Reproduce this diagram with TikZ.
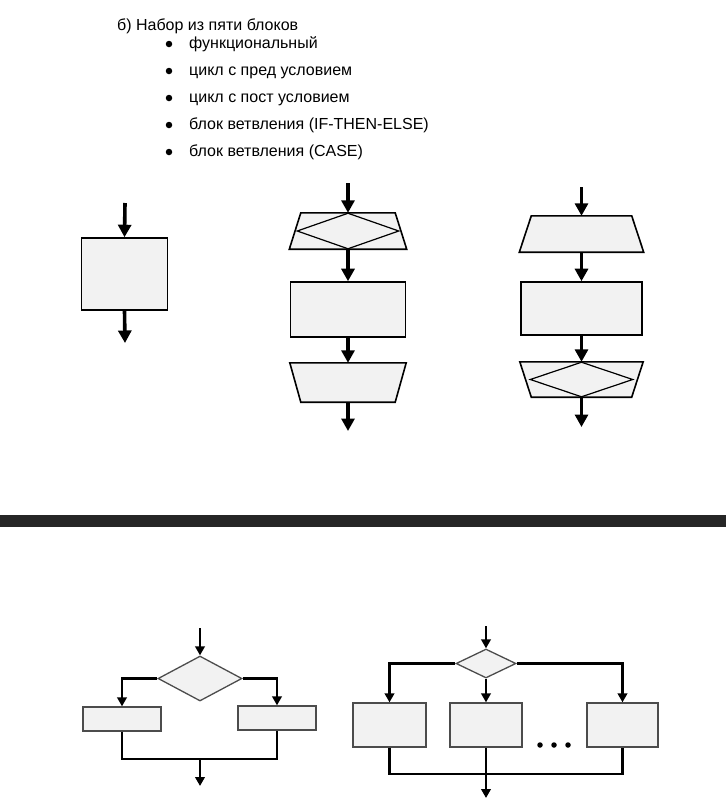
\documentclass[tikz,border=0pt]{standalone}
\usepackage{fontspec}
\setmainfont{Liberation Sans}
\usetikzlibrary{arrows.meta, shapes.geometric, positioning}
\definecolor{blkfill}{HTML}{F2F2F2}
\definecolor{bandgray}{HTML}{262626}
\tikzset{>={Triangle[length=12.5pt,width=13pt]}}
\tikzset{
  blk/.style={draw, line width=1.6pt, fill=blkfill, minimum width=#1, inner sep=0pt},
  frame/.style={rectangle, inner sep=0pt},
  trapline/.style={draw, line width=1.6pt, fill=blkfill, line join=miter},
  rhomb/.style={diamond, draw, line width=1.2pt, inner sep=0pt},
  flow/.style={line width=3.6pt, ->},
  sblk/.style={draw=black!70, line width=1.3pt, fill=blkfill, inner sep=0pt},
  srhomb/.style={diamond, draw=black!70, line width=1.3pt, fill=blkfill, inner sep=0pt},
  sflow/.style={line width=2.4pt, -{Triangle[length=9pt,width=9.5pt]}},
  sline/.style={line width=2.4pt},
  dot/.style={circle, fill=black, inner sep=0pt, minimum size=#1}
}
% trapezoid over a frame node: narrow top / narrow bottom
\newcommand{\trapnarrowtop}[2]{\path[trapline] ([xshift=#2]#1.north west)--([xshift=-#2]#1.north east)--(#1.south east)--(#1.south west)--cycle;}
\newcommand{\trapnarrowbot}[2]{\path[trapline] (#1.north west)--(#1.north east)--([xshift=-#2]#1.south east)--([xshift=#2]#1.south west)--cycle;}

\begin{document}
\begin{tikzpicture}[x=1pt, y=-1pt, font=\fontsize{16}{18}\selectfont]
    \useasboundingbox (0,0) rectangle (726,804);

    % heading and list
    \node[anchor=base west, inner sep=0pt] (head) at (117,30) {б) Набор из пяти блоков};
    \foreach \n/\txt [count=\i] in {a/функциональный, b/цикл с пред условием, c/цикл с пост условием,
                                    d/блок ветвления (IF-THEN-ELSE), e/блок ветвления (CASE)}
    {
        \node[anchor=base west, inner sep=0pt] (item\n) at (189,21+27*\i) {\txt};
        \node[dot=6.5pt] (bul\n) at (169,17+27*\i) {};
    }

    % functional block
    \coordinate (fin) at (125,203);
    \coordinate (fout) at (125,343);
    \node[blk=86pt, minimum height=72pt] (func) at (124.5,274) {};
    \draw[flow] (fin)--(func.north);
    \draw[flow] (func.south)--(fout);

    % loop with precondition
    \coordinate (pin) at (348,183);
    \coordinate (pout) at (348,431);
    \node[frame, minimum width=117pt, minimum height=36pt] (ptop) at (348,231) {};
    \trapnarrowtop{ptop}{11.5pt}
    \node[rhomb, minimum width=102pt, minimum height=36pt] (pcond) at (348,231) {};
    \node[blk=115pt, minimum height=55pt] (pbody) at (348,309.5) {};
    \node[frame, minimum width=116pt, minimum height=39pt] (pend) at (348,382.5) {};
    \trapnarrowbot{pend}{11pt}
    \draw[flow] (pin)--(ptop.north);
    \draw[flow] (ptop.south)--(pbody.north);
    \draw[flow] (pbody.south)--(pend.north);
    \draw[flow] (pend.south)--(pout);

    % loop with postcondition
    \coordinate (qin) at (581.5,187);
    \coordinate (qout) at (581.5,427);
    \node[frame, minimum width=124pt, minimum height=36pt] (qtop) at (581.5,234) {};
    \trapnarrowtop{qtop}{12pt}
    \node[blk=121pt, minimum height=53pt] (qbody) at (581.5,308.5) {};
    \node[frame, minimum width=123pt, minimum height=35pt] (qend) at (581.5,379.5) {};
    \trapnarrowbot{qend}{11.5pt}
    \node[rhomb, minimum width=103pt, minimum height=35pt] (qcond) at (581.5,379.5) {};
    \draw[flow] (qin)--(qtop.north);
    \draw[flow] (qtop.south)--(qbody.north);
    \draw[flow] (qbody.south)--(qend.north);
    \draw[flow] (qend.south)--(qout);

    % separator band
    \fill[bandgray] (0,515) rectangle (726,527);

    % IF-THEN-ELSE
    \coordinate (iin) at (200,628);
    \coordinate (iout) at (200,786);
    \node[srhomb, minimum width=84pt, minimum height=45pt] (icond) at (200,678.5) {};
    \node[sblk, minimum width=78pt, minimum height=24pt] (ithen) at (122,719) {};
    \node[sblk, minimum width=78pt, minimum height=24pt] (ielse) at (277,718) {};
    \coordinate (imerge) at (200,759);
    \draw[sflow] (iin)--(icond.north);
    \draw[sflow] (icond.west)-|(ithen.north);
    \draw[sflow] (icond.east)-|(ielse.north);
    \draw[sline] (ithen.south)|-(imerge)-|(ielse.south);
    \draw[sflow] (imerge)--(iout);

    % CASE
    \coordinate (cin) at (486,626);
    \coordinate (cout) at (486,798);
    \node[srhomb, minimum width=60pt, minimum height=29pt] (ccond) at (486,663.5) {};
    \node[sblk, minimum width=73pt, minimum height=44pt] (ca) at (389.5,725) {};
    \node[sblk, minimum width=72pt, minimum height=44pt] (cb) at (486,725) {};
    \node[sblk, minimum width=71pt, minimum height=44pt] (cn) at (622.5,725) {};
    \coordinate (cmerge) at (486,774);
    \foreach \x [count=\k] in {540,554,568}
        \node[dot=5.5pt] (cdot\k) at (\x,745) {};
    \draw[sflow] (cin)--(ccond.north);
    \draw[sflow] (ccond.west)-|(ca.north);
    \draw[sflow] (ccond.south)--(cb.north);
    \draw[sflow] (ccond.east)-|(cn.north);
    \draw[sline] (ca.south)|-(cmerge)-|(cn.south);
    \draw[sflow] (cb.south)--(cout);
\end{tikzpicture}
\end{document}
